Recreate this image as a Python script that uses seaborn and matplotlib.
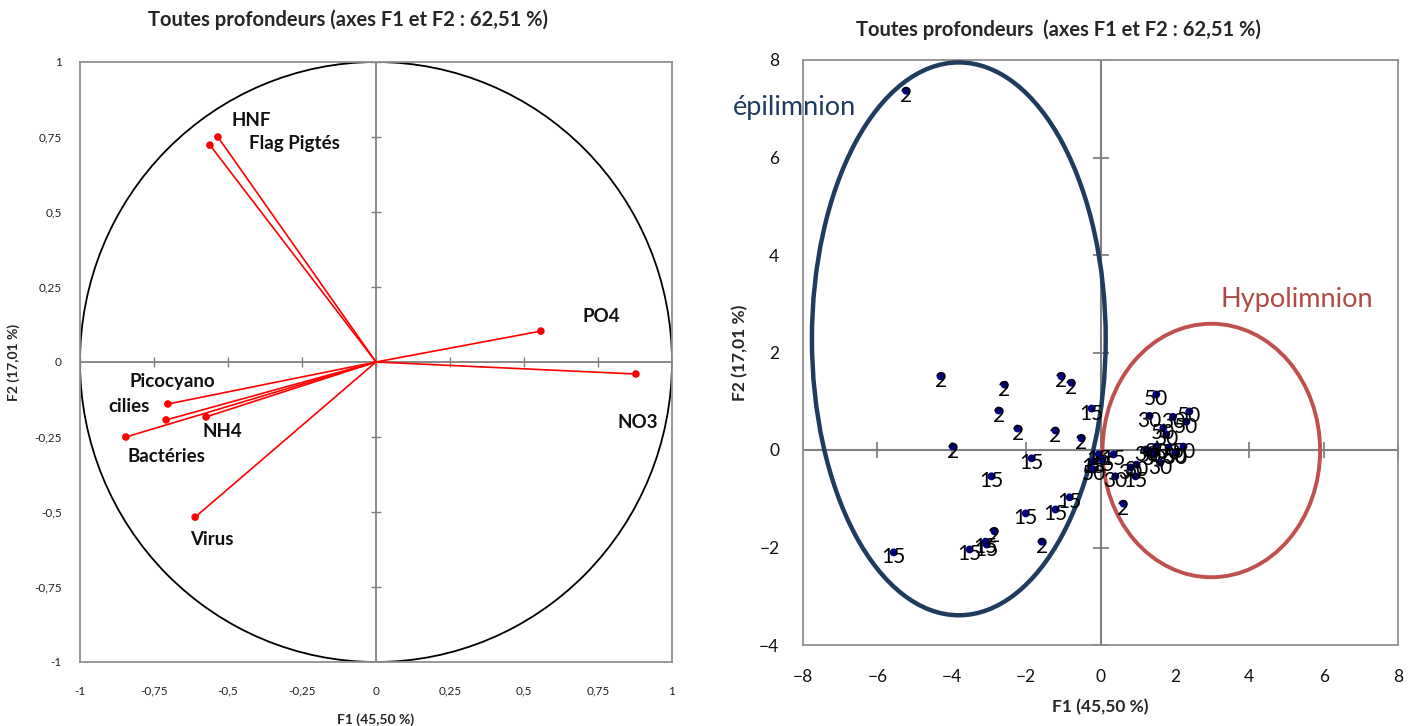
import numpy as np
import pandas as pd
import matplotlib.pyplot as plt
import seaborn as sns
from matplotlib.patches import Ellipse, Circle
from matplotlib.ticker import FuncFormatter

# ---- data : variables (correlation circle) ----
variables = ['HNF', 'Flag Pigtés', 'PO4', 'NO3', 'Picocyano', 'cilies', 'NH4', 'Bactéries', 'Virus']
var_f1 = [-0.534, -0.561, 0.557, 0.878, -0.703, -0.709, -0.574, -0.845, -0.611]
var_f2 = [0.750, 0.723, 0.103, -0.040, -0.140, -0.193, -0.183, -0.250, -0.517]

# ---- data : observations, by depth ----
obs_2_f1 = [-5.23, -4.30, -2.58, -1.05, -0.78, -2.74, -2.23, -1.21, -0.51, -3.97, -2.85, -1.58, 0.62]
obs_2_f2 = [7.37, 1.51, 1.34, 1.51, 1.38, 0.81, 0.44, 0.40, 0.24, 0.07, -1.67, -1.88, -1.10]
obs_15_f1 = [-0.24, -1.85, -2.93, -0.83, -1.21, -2.01, -5.56, -3.52, -3.09, -3.06, -0.05, 0.35, 0.94, -0.19, 0.05]
obs_15_f2 = [0.85, -0.17, -0.54, -0.97, -1.22, -1.30, -2.10, -2.04, -1.88, -1.94, -0.09, -0.09, -0.54, -0.24, -0.20]
obs_30_f1 = [1.32, 1.95, 1.77, 1.61, 0.81, 0.97, 0.40, 1.23, 1.50]
obs_30_f2 = [0.70, 0.68, 0.32, -0.26, -0.36, -0.30, -0.54, 0.01, 0.07]
obs_50_f1 = [1.50, 2.39, 2.31, 2.01, 2.23, -0.19, 1.83, 2.04, 1.34, 1.45, 1.69]
obs_50_f2 = [1.14, 0.79, 0.58, -0.05, 0.07, -0.40, 0.05, -0.07, -0.03, -0.09, 0.45]

obs = pd.concat([
    pd.DataFrame({'F1': obs_2_f1, 'F2': obs_2_f2, 'depth': '2'}),
    pd.DataFrame({'F1': obs_15_f1, 'F2': obs_15_f2, 'depth': '15'}),
    pd.DataFrame({'F1': obs_30_f1, 'F2': obs_30_f2, 'depth': '30'}),
    pd.DataFrame({'F1': obs_50_f1, 'F2': obs_50_f2, 'depth': '50'}),
], ignore_index=True)
var_df = pd.DataFrame({'name': variables, 'F1': var_f1, 'F2': var_f2})

# label placement for the variable names (pixels from the arrow tip)
var_label_offset = {'HNF': (33, 16), 'Flag Pigtés': (84, 2), 'PO4': (60, 15), 'NO3': (2, -49),
                    'Picocyano': (4, 23), 'cilies': (-37, 13), 'NH4': (16, -15),
                    'Bactéries': (41, -20), 'Virus': (17, -22)}

sns.set_theme(style="white")
plt.rcParams['font.family'] = ['Lato', 'DejaVu Sans']

fig = plt.figure(figsize=(14.16, 7.26), dpi=100)
ax1 = fig.add_axes([80 / 1416, 1 - 662 / 726, 592 / 1416, 600 / 726])
ax2 = fig.add_axes([803 / 1416, 1 - 645 / 726, 595 / 1416, 585 / 726])

comma = FuncFormatter(lambda v, _: f"{v:g}".replace('.', ','))

# ---------------- left : correlation circle ----------------
ax1.set_xlim(-1, 1)
ax1.set_ylim(-1, 1)
ax1.add_patch(Circle((0, 0), 1, fill=False, color='black', lw=1.3, zorder=2))
ax1.axhline(0, color='#808080', lw=1.3, zorder=1)
ax1.axvline(0, color='#808080', lw=1.3, zorder=1)
ticks1 = np.arange(-1, 1.01, 0.25)
ax1.plot(ticks1, np.zeros_like(ticks1), ls='none', marker='|', ms=7, color='#808080', zorder=1)
ax1.plot(np.zeros_like(ticks1), ticks1, ls='none', marker='_', ms=7, color='#808080', zorder=1)
for _, r in var_df.iterrows():
    ax1.plot([0, r.F1], [0, r.F2], color='red', lw=1.2, zorder=3)
sns.scatterplot(data=var_df, x='F1', y='F2', color='red', s=30, edgecolor='none', ax=ax1, zorder=4)
for _, r in var_df.iterrows():
    ax1.annotate(r['name'], (r.F1, r.F2), xytext=var_label_offset[r['name']], textcoords='offset pixels',
                 ha='center', va='center', fontsize=13.5, fontweight='bold', color='#111111')
ax1.set_xticks(ticks1)
ax1.set_yticks(ticks1)
ax1.xaxis.set_major_formatter(comma)
ax1.yaxis.set_major_formatter(comma)
ax1.tick_params(length=0, labelsize=8.5, pad=17, colors='#222222')
ax1.tick_params(axis='y', pad=13)
ax1.set_xlabel('F1 (45,50 %)', fontsize=10, fontweight='bold', labelpad=12)
ax1.set_ylabel('F2 (17,01 %)', fontsize=10, fontweight='bold', labelpad=10)
for s in ax1.spines.values():
    s.set_color('#909090')
    s.set_linewidth(1.3)
fig.text(348 / 1416, 1 - 20 / 726, 'Toutes profondeurs (axes F1 et F2 : 62,51 %)', ha='center', va='center',
         fontsize=14.5, fontweight='bold')

# ---------------- right : observations ----------------
ax2.set_xlim(-8, 8)
ax2.set_ylim(-4, 8)
ax2.axhline(0, color='#808080', lw=1.5, zorder=1)
ax2.axvline(0, color='#808080', lw=1.5, zorder=1)
xt2 = np.arange(-8, 8.01, 2)
yt2 = np.arange(-4, 8.01, 2)
ax2.plot(xt2, np.zeros_like(xt2), ls='none', marker='|', ms=11, mew=1.3, color='#808080', zorder=1)
ax2.plot(np.zeros_like(yt2), yt2, ls='none', marker='_', ms=11, mew=1.3, color='#808080', zorder=1)
sns.scatterplot(data=obs, x='F1', y='F2', color='#000080', s=32, edgecolor='none', ax=ax2, zorder=4)
for _, r in obs.iterrows():
    ax2.annotate(r['depth'], (r.F1, r.F2), xytext=(0, -5), textcoords='offset pixels',
                 ha='center', va='center', fontsize=15, color='black', zorder=5)
ax2.add_patch(Ellipse((-3.81, 2.28), 7.9, 11.34, fill=False, ec='#1F3B5E', lw=3.2, clip_on=False, zorder=3))
ax2.add_patch(Ellipse((2.98, -0.01), 5.85, 5.2, fill=False, ec='#C0504D', lw=2.8, clip_on=False, zorder=3))
fig.text(795 / 1416, 1 - 108 / 726, 'épilimnion', ha='center', va='center', fontsize=19.5, color='#1F3B5E')
fig.text(1297 / 1416, 1 - 300 / 726, 'Hypolimnion', ha='center', va='center', fontsize=19.5, color='#B04A47')
ax2.set_xticks(xt2)
ax2.set_yticks(yt2)
ax2.tick_params(length=0, labelsize=12.5, pad=17, colors='#111111')
ax2.set_xlabel('F1 (45,50 %)', fontsize=12.5, fontweight='bold', labelpad=10)
ax2.set_ylabel('F2 (17,01 %)', fontsize=12.5, fontweight='bold', labelpad=8)
for s in ax2.spines.values():
    s.set_color('#909090')
    s.set_linewidth(1.3)
fig.text(1058 / 1416, 1 - 30 / 726, 'Toutes profondeurs  (axes F1 et F2 : 62,51 %)', ha='center', va='center',
         fontsize=14.5, fontweight='bold')

fig.savefig('out.png', dpi=100)
